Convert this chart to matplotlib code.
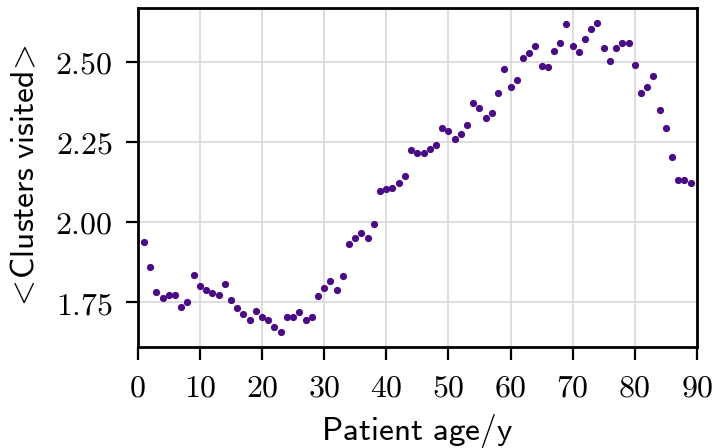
import numpy as np
import matplotlib
matplotlib.use("Agg")
import matplotlib.pyplot as plt
from matplotlib.ticker import FuncFormatter

plt.rcParams["mathtext.fontset"] = "cm"

ages = list(range(1, 90))
clusters_visited = [
    1.938, 1.858, 1.780, 1.764, 1.772, 1.772, 1.735, 1.751, 1.834, 1.801,
    1.789, 1.778, 1.773, 1.805, 1.755, 1.730, 1.711, 1.695, 1.721, 1.703,
    1.695, 1.672, 1.657, 1.702, 1.702, 1.720, 1.693, 1.702, 1.768, 1.795,
    1.817, 1.786, 1.831, 1.931, 1.949, 1.965, 1.949, 1.994, 2.098, 2.102,
    2.106, 2.121, 2.145, 2.225, 2.216, 2.215, 2.227, 2.240, 2.292, 2.283,
    2.260, 2.276, 2.303, 2.372, 2.355, 2.326, 2.341, 2.404, 2.478, 2.421,
    2.442, 2.513, 2.529, 2.549, 2.488, 2.483, 2.535, 2.558, 2.619, 2.549,
    2.530, 2.573, 2.602, 2.620, 2.544, 2.504, 2.543, 2.558, 2.559, 2.489,
    2.402, 2.422, 2.456, 2.351, 2.293, 2.203, 2.131, 2.131, 2.122,
]
x_ticks = [0, 10, 20, 30, 40, 50, 60, 70, 80, 90]
y_ticks = [1.75, 2.00, 2.25, 2.50]

fig = plt.figure(figsize=(7.14, 4.48), dpi=100)
ax = fig.add_axes([0.193, 0.225, 0.783, 0.757])

ax.plot(ages, clusters_visited, "o", color="#4a0a85", markersize=5.2,
        markeredgewidth=0, zorder=3)

ax.set_xlim(0, 90)
ax.margins(y=0.05)
ax.set_xticks(x_ticks)
ax.set_yticks(y_ticks)
ax.xaxis.set_major_formatter(FuncFormatter(lambda v, p: rf"${v:.0f}$"))
ax.yaxis.set_major_formatter(FuncFormatter(lambda v, p: rf"${v:.2f}$"))

ax.grid(True, color="#d8d8d8", linewidth=1.2, zorder=0)
for s in ax.spines.values():
    s.set_linewidth(2.0)
    s.set_color("black")
ax.tick_params(axis="both", direction="out", length=9, width=1.6,
               labelsize=23, pad=9, color="black")

ax.set_xlabel(r"$\mathsf{Patient\ age/y}$", fontsize=24, labelpad=6)
ax.set_ylabel(r"$\mathsf{<\!Clusters\ visited\!>}$", fontsize=24, labelpad=10)

fig.savefig("out.png", dpi=100)
